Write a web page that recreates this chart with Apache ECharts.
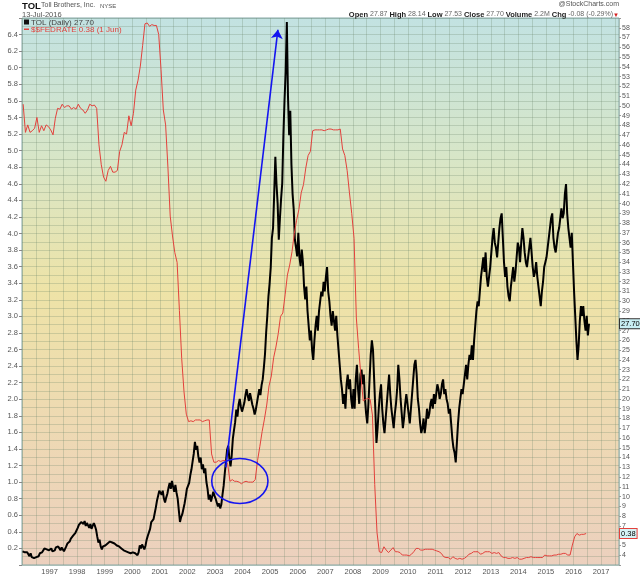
<!DOCTYPE html>
<html><head><meta charset="utf-8">
<script src="https://cdn.jsdelivr.net/npm/echarts@6/dist/echarts.min.js"></script>
<style>html,body{margin:0;padding:0;background:#fff}#c{width:640px;height:576px}</style>
</head><body><div id="c"></div>
<script>
// ---- DATA ----
const tolStartYear = 1996;
const tolPerYear = 24; // semi-monthly readings
const tolSemiMonthly = [
 4.4,4.6,4.3,4.5,4.3,4.1,3.9,4.2,3.8,4.0,3.7,3.9,3.8,4.0,3.9,4.2,4.1,4.3,4.4,4.7,4.5,4.6,4.4,4.5,
 4.5,4.7,4.4,4.6,4.5,4.8,4.6,4.9,4.7,4.5,4.8,4.6,4.4,4.6,4.9,5.2,5.0,5.4,5.7,5.5,6.0,5.8,6.3,6.5,
 6.8,7.1,6.9,7.4,7.6,7.2,7.5,7.0,7.3,7.1,6.8,7.2,6.7,6.9,7.3,7.0,6.6,5.9,5.3,5.6,4.9,4.6,4.9,5.1,
 5.0,4.8,5.2,5.0,5.4,5.6,5.3,5.5,5.2,5.4,5.0,5.2,4.9,5.1,4.7,4.9,4.5,4.7,4.4,4.6,4.3,4.5,4.2,4.4,
 4.3,4.4,4.2,4.1,4.0,4.3,5.0,4.7,5.1,4.9,4.6,5.0,5.6,6.0,5.8,6.7,7.4,7.2,7.7,8.3,8.9,9.6,10.1,10.6,
 10.8,10.2,10.6,9.8,9.4,9.9,10.3,10.9,11.4,10.8,11.6,11.0,10.5,11.2,10.4,9.8,8.6,7.4,7.9,8.2,8.4,9.3,10.0,10.8,
 11.0,11.4,12.2,12.8,13.6,14.4,15.6,14.8,15.2,14.1,13.5,14.0,12.8,13.3,12.4,12.9,11.5,10.8,9.7,10.2,9.5,10.0,10.5,10.1,
 9.8,9.4,9.0,9.3,8.8,9.2,10.2,11.1,12.4,13.6,14.8,15.2,13.9,13.1,14.2,15.9,16.8,17.6,18.9,18.2,19.4,20.0,19.2,18.7,
 18.9,19.6,20.4,21.0,20.3,19.8,20.6,20.0,19.4,19.0,18.4,18.9,19.6,20.3,21.0,20.4,21.4,22.0,23.2,24.6,26.8,28.5,30.5,31.8,
 33.5,36.5,37.5,41.0,44.8,42.0,40.0,36.3,38.5,40.5,42.1,47.0,50.6,53.5,58.6,51.0,47.0,49.5,44.0,41.0,39.4,36.3,35.5,34.6,
 37.0,34.5,33.6,35.3,34.0,31.5,30.2,31.5,29.0,27.5,26.0,27.0,25.0,24.0,26.0,27.5,28.5,27.0,29.0,30.0,31.0,30.5,32.0,31.0,
 32.5,33.5,31.0,30.0,28.5,27.5,29.0,28.0,27.0,28.5,26.5,25.0,23.5,22.0,21.0,19.5,20.5,19.0,21.5,22.5,21.0,22.0,20.0,19.0,
 21.0,19.0,22.0,23.5,21.0,19.5,22.5,23.0,21.5,22.5,20.0,18.5,17.5,19.5,22.0,24.5,26.0,25.0,22.0,19.0,15.5,17.0,19.0,20.5,
 21.5,19.0,17.5,16.5,18.0,19.5,21.0,22.5,20.5,19.0,18.0,17.0,18.5,19.5,21.0,23.5,22.0,20.0,18.5,17.0,18.0,19.5,20.5,19.5,
 18.5,17.5,19.0,20.5,22.0,23.5,24.0,22.5,20.0,19.0,17.5,16.5,17.0,18.0,16.5,17.5,19.0,18.0,18.5,19.5,20.0,19.0,20.5,19.5,
 20.5,21.5,21.0,20.0,20.5,21.5,22.0,20.5,21.0,20.0,19.5,18.5,19.0,17.5,16.0,15.0,14.5,13.5,15.5,17.5,19.0,20.0,21.0,20.5,
 21.5,22.5,23.5,22.0,23.5,24.5,24.0,25.5,24.0,26.0,27.5,29.0,30.0,29.5,31.0,32.5,33.5,34.5,33.0,35.0,32.5,31.5,32.5,33.5,
 35.0,36.5,37.5,36.0,35.5,34.5,36.0,37.5,38.5,39.0,36.5,34.0,32.5,33.5,31.5,30.5,30.0,31.5,32.5,33.5,32.0,33.0,34.5,36.0,
 35.5,34.0,36.0,37.5,36.5,35.0,34.0,33.5,34.5,35.5,36.5,35.0,33.5,32.5,33.0,34.0,32.5,31.5,30.5,29.5,31.0,32.0,33.5,34.0,
 34.5,35.5,36.5,37.5,38.5,39.0,36.5,35.5,35.0,36.0,37.0,37.5,38.5,39.5,38.5,39.0,41.0,42.0,39.0,37.5,36.5,35.5,37.0,34.0,
 31.0,28.5,26.0,24.0,25.5,28.0,29.5,28.5,29.5,28.0,27.0,28.5,26.5,27.7
];
const fedStartYear = 1996;
const fedMonthly = [
 5.56,5.22,5.31,5.22,5.24,5.27,5.40,5.22,5.30,5.24,5.31,5.29,
 5.25,5.19,5.39,5.51,5.50,5.56,5.52,5.54,5.54,5.50,5.52,5.50,
 5.56,5.51,5.49,5.45,5.49,5.56,5.54,5.55,5.51,5.07,4.83,4.68,
 4.63,4.76,4.81,4.74,4.74,4.76,4.99,5.07,5.22,5.20,5.42,5.30,
 5.45,5.73,5.85,6.02,6.27,6.53,6.54,6.50,6.52,6.51,6.51,6.40,
 5.98,5.49,5.31,4.80,4.21,3.97,3.77,3.65,3.07,2.49,2.09,1.82,
 1.73,1.74,1.73,1.75,1.75,1.75,1.73,1.74,1.75,1.75,1.34,1.24,
 1.24,1.26,1.25,1.26,1.26,1.22,1.01,1.03,1.01,1.01,1.00,0.98,
 1.00,1.01,1.00,1.00,1.00,1.03,1.26,1.43,1.61,1.76,1.93,2.16,
 2.28,2.50,2.63,2.79,3.00,3.04,3.26,3.50,3.62,3.78,4.00,4.16,
 4.29,4.49,4.59,4.79,4.94,4.99,5.24,5.25,5.25,5.25,5.25,5.24,
 5.25,5.26,5.26,5.25,5.25,5.25,5.26,5.02,4.94,4.76,4.49,4.24,
 3.94,2.98,2.61,2.28,1.98,2.00,2.01,2.00,1.81,0.97,0.39,0.16,
 0.15,0.22,0.18,0.15,0.18,0.21,0.16,0.16,0.15,0.12,0.12,0.12,
 0.11,0.13,0.16,0.20,0.20,0.18,0.18,0.19,0.19,0.19,0.19,0.18,
 0.17,0.16,0.14,0.10,0.09,0.09,0.07,0.10,0.08,0.07,0.08,0.07,
 0.08,0.10,0.13,0.14,0.16,0.16,0.16,0.13,0.14,0.16,0.16,0.16,
 0.14,0.15,0.14,0.15,0.11,0.09,0.09,0.08,0.08,0.09,0.08,0.09,
 0.07,0.07,0.08,0.09,0.09,0.10,0.09,0.09,0.09,0.09,0.09,0.12,
 0.11,0.11,0.11,0.12,0.12,0.13,0.13,0.14,0.14,0.12,0.12,0.24,
 0.34,0.38,0.36,0.37,0.37,0.38
];
const tolLast = 27.70;
const fedLast = 0.38;
const yearLabelFirst = 1997;
const yearLabelLast = 2017;

// ---- CHART ----
const FONT = '"Liberation Sans", Arial, sans-serif';
const tolData = tolSemiMonthly.map((v, i) => [tolStartYear + (i + 0.5) / tolPerYear, v]);
const fedData = fedMonthly.map((v, i) => [fedStartYear + (i + 0.5) / 12, v]);
const X_MIN = 1996, X_MAX = 2017.65;
const gridColor = 'rgba(105,130,105,0.26)';

const chart = echarts.init(document.getElementById('c'), null, {renderer: 'canvas'});
chart.setOption({
  animation: false,
  backgroundColor: '#ffffff',
  textStyle: {fontFamily: FONT},
  grid: {
    left: 22, right: 21, top: 18, bottom: 10, show: true,
    borderColor: '#86a9a9', borderWidth: 1,
    backgroundColor: {type: 'linear', x: 0, y: 0, x2: 0, y2: 1, colorStops: [
      {offset: 0, color: '#c2e2e2'}, {offset: 0.25, color: '#d7e6c8'},
      {offset: 0.5, color: '#eee3a7'}, {offset: 0.75, color: '#eed9b3'},
      {offset: 1, color: '#ecd0be'}]}
  },
  xAxis: {
    type: 'value', min: X_MIN, max: X_MAX, interval: 0.5,
    axisLine: {show: false}, axisTick: {show: false},
    splitLine: {show: true, lineStyle: {color: gridColor, width: 1}},
    axisLabel: {
      fontSize: 7.5, color: '#555', margin: 3, fontFamily: FONT,
      formatter: v => (Math.abs(v - Math.round(v)) < 1e-6 && v >= yearLabelFirst && v <= yearLabelLast) ? String(Math.round(v)) : ''
    }
  },
  yAxis: [{
    type: 'value', position: 'left', min: 0, max: 6.6, interval: 0.2,
    axisLine: {show: false},
    axisTick: {show: true, length: 3, lineStyle: {color: '#888'}},
    minorTick: {show: false, splitNumber: 2},
    minorSplitLine: {show: true, lineStyle: {color: gridColor}},
    splitLine: {show: true, lineStyle: {color: gridColor}},
    axisLabel: {fontSize: 7.5, color: '#555', margin: 4, fontFamily: FONT,
      formatter: v => (v > 0.05 && v < 6.5) ? v.toFixed(1) : ''}
  }, {
    type: 'value', position: 'right', min: 3, max: 59, interval: 1,
    axisLine: {show: false},
    axisTick: {show: true, length: 2, lineStyle: {color: '#999'}},
    splitLine: {show: false},
    axisLabel: {fontSize: 7, color: '#555', margin: 3, fontFamily: FONT,
      formatter: v => (v >= 4 && v <= 58) ? String(v) : ''}
  }],
  series: [{
    name: 'TOL', type: 'line', yAxisIndex: 1, data: tolData,
    showSymbol: false, symbol: 'none', z: 3,
    lineStyle: {color: '#000', width: 2},
    markLine: {
      silent: true, symbol: ['none', 'arrow'], symbolSize: 9,
      label: {show: false},
      lineStyle: {color: '#1414f0', width: 1.6, type: 'solid'},
      data: [[{coord: [2003.39, 13.0]}, {coord: [2005.28, 57.8]}]]
    },
    markPoint: {
      silent: true, symbol: 'rect', symbolSize: 0,
      data: [{coord: [X_MAX, tolLast]}],
      label: {show: true, position: 'right', distance: 1, formatter: tolLast.toFixed(2),
        fontSize: 7.5, color: '#000', fontFamily: FONT,
        backgroundColor: '#c8eef3', borderColor: '#333', borderWidth: 1, padding: [1, 1, 0, 1]}
    }
  }, {
    name: 'FEDRATE', type: 'line', yAxisIndex: 0, data: fedData,
    showSymbol: false, symbol: 'none', z: 4,
    lineStyle: {color: '#e3413c', width: 1},
    markPoint: {
      silent: true, symbol: 'rect', symbolSize: 0,
      data: [{coord: [X_MAX, fedLast]}],
      label: {show: true, position: 'right', distance: 1, formatter: fedLast.toFixed(2),
        fontSize: 7.5, color: '#000', fontFamily: FONT,
        backgroundColor: '#d6f3f5', borderColor: '#e3413c', borderWidth: 1, padding: [1, 1, 0, 1]}
    }
  }, {
    name: 'circle', type: 'custom', yAxisIndex: 1, silent: true, z: 6,
    data: [[2003.9, 11.6, 1.02, 2.3]],
    renderItem: (params, api) => {
      const c = api.coord([api.value(0), api.value(1)]);
      const s = api.size([api.value(2), api.value(3)]);
      return {type: 'ellipse', shape: {cx: c[0], cy: c[1], rx: s[0], ry: s[1]},
        style: {fill: 'none', stroke: '#1414f0', lineWidth: 1.6}};
    }
  }],
  graphic: [
    {type: 'text', left: 22, top: 1, style: {text: 'TOL', fontSize: 9.5, fontWeight: 'bold', fill: '#111', fontFamily: FONT}},
    {type: 'text', left: 41, top: 2, style: {text: 'Toll Brothers, Inc.', fontSize: 7, fill: '#555', fontFamily: FONT}},
    {type: 'text', left: 100, top: 3, style: {text: 'NYSE', fontSize: 6, fill: '#555', fontFamily: FONT}},
    {type: 'text', left: 22, top: 10.5, style: {text: '13-Jul-2016', fontSize: 7.5, fill: '#555', fontFamily: FONT}},
    {type: 'text', right: 21, top: 1, style: {text: '@StockCharts.com', fontSize: 7, fill: '#555', fontFamily: FONT}},
    {type: 'text', right: 27, top: 10.5, style: {
      text: '{b|Open} 27.87 {b|High} 28.14 {b|Low} 27.53 {b|Close} 27.70 {b|Volume} 2.2M {b|Chg} -0.08 (-0.29%)',
      fontSize: 7, fill: '#666', fontFamily: FONT,
      rich: {b: {fontSize: 7.5, fontWeight: 'bold', fill: '#222', fontFamily: FONT}}}},
    {type: 'text', right: 21, top: 12, style: {text: '▼', fontSize: 6, fill: '#d42020', fontFamily: FONT}},
    {type: 'rect', left: 24, top: 19.5, shape: {width: 5, height: 5}, style: {fill: '#111'}},
    {type: 'text', left: 31, top: 18.5, style: {text: 'TOL (Daily) 27.70', fontSize: 8, fill: '#444', fontFamily: FONT}},
    {type: 'rect', left: 24, top: 28.5, shape: {width: 5, height: 1.5}, style: {fill: '#e3413c'}},
    {type: 'text', left: 31, top: 25.5, style: {text: '$$FEDRATE 0.38 (1 Jun)', fontSize: 8, fill: '#e3413c', fontFamily: FONT}}
  ]
});
</script>
</body></html>
